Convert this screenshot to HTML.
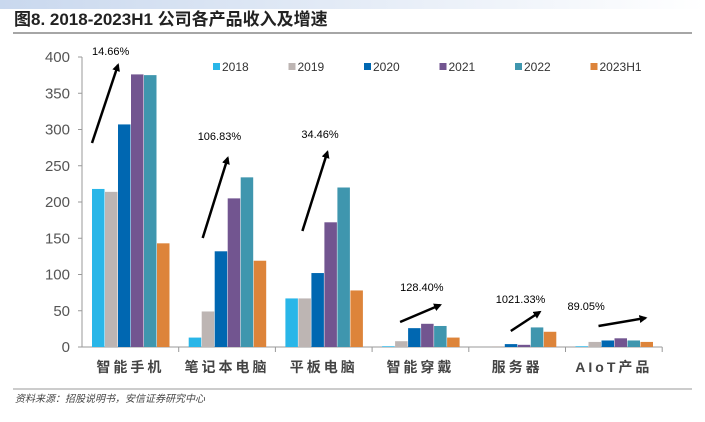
<!DOCTYPE html>
<html><head><meta charset="utf-8"><style>
body{margin:0;width:705px;height:417px;background:#fff;overflow:hidden;font-family:"Liberation Sans","Noto Sans CJK SC",sans-serif}
</style></head><body>
<svg width="705" height="417" xmlns="http://www.w3.org/2000/svg">
<defs><linearGradient id="g" x1="0" x2="1"><stop offset="0" stop-color="#c9d8ee"/><stop offset="1" stop-color="#ffffff"/></linearGradient>
<marker id="ah" markerWidth="8" markerHeight="8" refX="6" refY="4" orient="auto" markerUnits="userSpaceOnUse"><path d="M0,0 L8,4 L0,8 Z" fill="#000"/></marker></defs>
<rect x="0" y="0" width="705" height="9" fill="url(#g)"/>
<text x="14" y="25" font-size="17" font-weight="bold" fill="#222">图8. 2018-2023H1 公司各产品收入及增速</text>
<line x1="13" y1="33" x2="692" y2="33" stroke="#888" stroke-width="1.5"/>
<g id="plot"></g>
<line x1="13" y1="389" x2="692" y2="389" stroke="#999" stroke-width="1"/>
<text x="15" y="402" font-size="10" font-style="italic" fill="#444">资料来源：招股说明书，安信证券研究中心</text>
</svg>
<script>
const categories=["智能手机","笔记本电脑","平板电脑","智能穿戴","服务器","AIoT产品"];
const seriesNames=["2018","2019","2020","2021","2022","2023H1"];
const s2018=[218,13,67,1,0,1];
const s2019=[214,49,67,8,1,7];
const s2020=[307,132,102,26,4,9];
const s2021=[376,205,172,32,3,12];
const s2022=[375,234,220,29,27,9];
const s2023=[143,119,78,13,21,7];
const growth=["14.66%","106.83%","34.46%","128.40%","1021.33%","89.05%"];
const yTicks=[0,50,100,150,200,250,300,350,400];
const colors=["#29b6e8","#bdb5b3","#0067b1","#725590","#3f96ae","#dd843a"];
const series=[s2018,s2019,s2020,s2021,s2022,s2023];
// arrow/label layout (offsets from category start, absolute y)
const arrowLayout=[[10,143,36,65,10,55],[24,238,49,158,19,140],[27,231,52,152,26,138],[28,322,68,305,28,291],[42,331,71,312,27,303],[33,326,80,318,2,310]];
const NS="http://www.w3.org/2000/svg";
const g=document.getElementById('plot');
const x0=82,cw=96.7,y0=347,yk=290/400,bw=13;
const y=v=>y0-v*yk;
function el(t,a){const e=document.createElementNS(NS,t);for(const k in a)e.setAttribute(k,a[k]);g.appendChild(e);return e;}
let e=el('line',{x1:x0,y1:y(400),x2:x0,y2:y0,stroke:'#999'});


e=el('line',{x1:x0,y1:y0,x2:x0+cw*6,y2:y0,stroke:'#999'});


yTicks.forEach(t=>{
 let l=el('line',{x1:x0-4,y1:y(t),x2:x0,y2:y(t),stroke:'#999'});
 
 
 let tx=el('text',{x:x0-12,y:y(t)+5,'text-anchor':'end','font-size':15,fill:'#555'});
 tx.textContent=t;
 
 
});
categories.forEach((c,i)=>{
 const cx=x0+cw*i;
 let l=el('line',{x1:cx+cw,y1:y0,x2:cx+cw,y2:y0+5,stroke:'#999'});
 
 
 series.forEach((s,j)=>{
  let r=el('rect',{x:cx+10+j*bw,y:y(s[i]),width:bw-0.5,height:s[i]*yk,fill:colors[j]});
  
  
 });
 let tx=el('text',{x:cx+cw/2,y:372,'text-anchor':'middle','font-size':14,'font-weight':'bold',fill:'#444','letter-spacing':'3'});
 tx.textContent=c;
 
 
 const L=arrowLayout[i];
 let a=el('line',{x1:cx+L[0],y1:L[1],x2:cx+L[2],y2:L[3],stroke:'#000','stroke-width':2.5,'marker-end':'url(#ah)'});
 
 
 let gt=el('text',{x:cx+L[4],y:L[5],'font-size':11,fill:'#000'});
 gt.textContent=growth[i];
 
 
});
seriesNames.forEach((n,j)=>{
 const lx=213+j*75.5;
 let r=el('rect',{x:lx,y:63,width:7,height:7,fill:colors[j]});
 
 
 let t=el('text',{x:lx+9,y:71,'font-size':12,fill:'#333'});
 t.textContent=n;
 
 
});
</script>
</body></html>
